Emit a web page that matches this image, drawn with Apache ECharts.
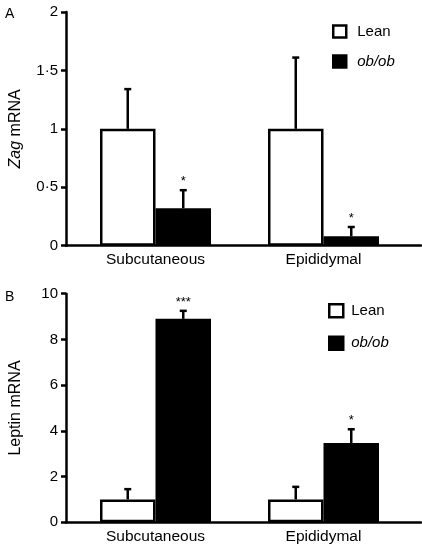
<!DOCTYPE html>
<html>
<head>
<meta charset="utf-8">
<script src="https://cdn.jsdelivr.net/npm/echarts@6/dist/echarts.min.js"></script>
<style>html,body{margin:0;padding:0;background:#fff;}#c{width:422px;height:546px;}</style>
</head>
<body>
<div id="c"></div>
<script>
// ---- data ----
const categories = ['Subcutaneous', 'Epididymal'];
const seriesNames = ['Lean', 'ob/ob'];
// Panel A: Zag mRNA
const zagLean = [1.0, 1.0];
const zagLeanErr = [0.34, 0.61];
const zagOb = [0.32, 0.08];
const zagObErr = [0.155, 0.08];
const zagSig = ['*', '*'];
// Panel B: Leptin mRNA
const leptinLean = [1.0, 1.0];
const leptinLeanErr = [0.45, 0.55];
const leptinOb = [8.9, 3.47];
const leptinObErr = [0.35, 0.6];
const leptinSig = ['***', '*'];

// ---- style ----
const FONT = '"Liberation Sans", Arial, Helvetica, sans-serif';
const BW = 55.5;
const LW = 2.5;

const chart = echarts.init(document.getElementById('c'), null, {renderer: 'canvas'});

const grids = [], xAxes = [], yAxes = [], series = [], legends = [];

function fmtTick(v) { return String(v).replace('.', '\u00b7'); }

function errSeries(xi, means, errs, sig, off) {
  return {
    type: 'custom', xAxisIndex: xi, yAxisIndex: xi, z: 5, silent: true,
    encode: {x: 0, y: 1},
    data: means.map((m, k) => [k, m, errs[k]]),
    renderItem: function (params, api) {
      const k = api.value(0), m = api.value(1), e = api.value(2);
      const b = api.coord([k, m]);
      const t = api.coord([k, m + e]);
      const x = b[0] + off;
      const children = [
        {type: 'line', shape: {x1: x, y1: b[1], x2: x, y2: t[1]}, style: {stroke: '#000', lineWidth: LW}},
        {type: 'line', shape: {x1: x - 3.5, y1: t[1], x2: x + 3.5, y2: t[1]}, style: {stroke: '#000', lineWidth: LW}}
      ];
      const s = sig ? sig[params.dataIndex] : '';
      if (s) {
        children.push({type: 'text', style: {text: s, x: x, y: t[1] - 2, align: 'center', verticalAlign: 'bottom',
          font: '13px ' + FONT, fill: '#000'}});
      }
      return {type: 'group', children: children};
    }
  };
}

function panel(p, top, bottom, max, interval, lean, leanErr, ob, obErr, sig, nameText, nameRich, lg) {
  const ga = grids.length;
  grids.push({left: 58, right: 1, top: top, bottom: bottom});
  grids.push({left: 71.5, right: 14.5, top: top, bottom: bottom});
  const xa = xAxes.length;
  // axis-frame grid
  xAxes.push({type: 'value', gridIndex: ga, min: 0, max: 1, axisLine: {show: true, onZero: false, lineStyle: {color: '#000', width: LW}},
    axisTick: {show: false}, axisLabel: {show: false}, splitLine: {show: false}});
  yAxes.push({type: 'value', gridIndex: ga, min: 0, max: max, interval: interval,
    name: nameText, nameLocation: 'middle', nameGap: 42, nameRotate: 90,
    nameTextStyle: {fontFamily: FONT, fontSize: 16, color: '#000', rich: nameRich},
    axisLine: {show: true, lineStyle: {color: '#000', width: LW}},
    axisTick: {show: true, length: 5, lineStyle: {color: '#000', width: LW}},
    axisLabel: {formatter: fmtTick, fontFamily: FONT, fontSize: 15, color: '#000', margin: 8},
    splitLine: {show: false}});
  // bar grid
  xAxes.push({type: 'category', gridIndex: ga + 1, data: categories,
    axisLine: {show: false}, axisTick: {show: false},
    axisLabel: {fontFamily: FONT, fontSize: 15.5, color: '#000', margin: 6}});
  yAxes.push({type: 'value', gridIndex: ga + 1, min: 0, max: max, interval: interval, show: false});
  const bi = xa + 1;
  series.push({name: seriesNames[0], type: 'bar', xAxisIndex: bi, yAxisIndex: bi, barWidth: BW, barGap: '0%',
    itemStyle: {color: '#fff', borderColor: '#000', borderWidth: LW}, data: lean, z: 3});
  series.push({name: seriesNames[1], type: 'bar', xAxisIndex: bi, yAxisIndex: bi, barWidth: BW, barGap: '0%',
    itemStyle: {color: '#000', borderColor: '#000', borderWidth: LW}, data: ob, z: 3});
  series.push(errSeries(bi, lean, leanErr, null, -BW / 2));
  series.push(errSeries(bi, ob, obErr, sig, BW / 2));
  legends.push({
    orient: 'vertical', left: lg.left, top: lg.top, itemGap: lg.gap, itemWidth: lg.w, itemHeight: lg.h,
    selectedMode: false,
    data: [
      {name: seriesNames[0], icon: 'rect', itemStyle: {color: '#fff', borderColor: '#000', borderWidth: LW}},
      {name: seriesNames[1], icon: 'rect', itemStyle: {color: '#000', borderColor: '#000', borderWidth: LW}}
    ],
    formatter: n => n === 'ob/ob' ? '{i|ob/ob}' : n,
    textStyle: {fontFamily: FONT, fontSize: 15, color: '#000', padding: [0, 0, 0, lg.tp],
      rich: {i: {fontFamily: FONT, fontSize: 15, fontStyle: 'italic', color: '#000'}}}
  });
}

panel('A', 12, 300.3, 2, 0.5, zagLean, zagLeanErr, zagOb, zagObErr, zagSig,
  '{i|Zag} mRNA', {i: {fontFamily: FONT, fontSize: 16, fontStyle: 'italic', color: '#000'}},
  {left: 327, top: 19, gap: 15, w: 13, h: 12, tp: 6});
panel('B', 293.7, 23.7, 10, 2, leptinLean, leptinLeanErr, leptinOb, leptinObErr, leptinSig,
  'Leptin mRNA', {},
  {left: 323, top: 298, gap: 17, w: 14, h: 13, tp: 3});

chart.setOption({
  animation: false,
  backgroundColor: '#fff',
  grid: grids, xAxis: xAxes, yAxis: yAxes, series: series, legend: legends,
  graphic: [
    {type: 'text', left: 5, top: 7, style: {text: 'A', font: '14px ' + FONT, fill: '#000'}},
    {type: 'text', left: 5, top: 290, style: {text: 'B', font: '14px ' + FONT, fill: '#000'}}
  ]
});
</script>
</body>
</html>
